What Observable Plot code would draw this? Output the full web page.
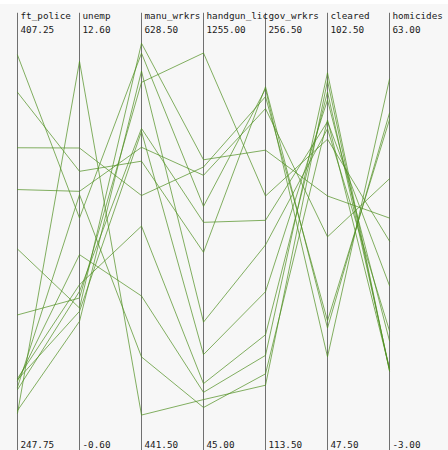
<!DOCTYPE html>
<html>
<head>
<meta charset="utf-8">
<script src="https://cdn.jsdelivr.net/npm/d3@7"></script>
<script src="https://cdn.jsdelivr.net/npm/@observablehq/plot@0.6"></script>
<style>
  html, body { margin: 0; padding: 0; background: #f7f7f7; }
  body { width: 448px; height: 450px; overflow: hidden; position: relative; }
  #topband { position: absolute; left: 0; top: 0; width: 448px; height: 4px; background: #ffffff; }
  #chart { position: absolute; left: 0; top: 0; }
</style>
</head>
<body>
<div id="topband"></div>
<div id="chart"></div>
<script>
// Variables (axes), left to right
const dims = ["ft_police", "unemp", "manu_wrkrs", "handgun_lic", "gov_wrkrs", "cleared", "homicides"];
// Axis end labels (bottom / top)
const axisLow  = [247.75, -0.60, 441.50, 45.00, 113.50, 47.50, -3.00];
const axisHigh = [407.25, 12.60, 628.50, 1255.00, 256.50, 102.50, 63.00];

// One record per year (13 years)
const years      = [1961, 1962, 1963, 1964, 1965, 1966, 1967, 1968, 1969, 1970, 1971, 1972, 1973];
const ftPolice   = [260.35, 269.80, 272.04, 272.96, 272.51, 261.34, 268.89, 295.99, 319.87, 341.43, 356.59, 376.69, 390.19];
const unemp      = [11.0, 7.0, 5.2, 4.3, 3.5, 3.2, 4.1, 3.9, 3.6, 7.1, 8.4, 7.7, 6.3];
const manuWrkrs  = [455.5, 480.2, 506.1, 535.8, 576.0, 601.7, 577.3, 596.9, 613.5, 569.3, 548.8, 563.4, 609.3];
const handgunLic = [178.15, 156.41, 198.02, 222.10, 301.92, 391.22, 665.56, 1131.21, 837.60, 794.90, 817.74, 583.17, 709.59];
const govWrkrs   = [133.9, 137.6, 143.6, 150.3, 164.3, 179.5, 187.5, 195.4, 210.3, 223.8, 227.7, 230.9, 230.2];
const cleared    = [93.4, 88.5, 94.4, 92.0, 91.0, 87.4, 88.3, 86.1, 79.0, 73.9, 63.4, 62.5, 58.9];
const homicides  = [8.60, 8.90, 8.52, 8.89, 13.07, 14.57, 21.36, 28.03, 31.49, 37.39, 46.26, 47.24, 52.33];

const columns = [ftPolice, unemp, manuWrkrs, handgunLic, govWrkrs, cleared, homicides];

// Long table of normalized values, one polyline per year
const rows = [];
years.forEach((yr, i) => {
  dims.forEach((d, j) => {
    rows.push({year: yr, dim: d, t: (columns[j][i] - axisLow[j]) / (axisHigh[j] - axisLow[j])});
  });
});

const xRange = [17, 389];
const font = "'DejaVu Sans Mono', monospace";
const fs = 9.3;

const chart = Plot.plot({
  width: 448,
  height: 450,
  margin: 0,
  style: {background: "transparent", fontFamily: font, fontSize: fs + "px", overflow: "visible"},
  x: {type: "point", domain: dims, range: xRange, padding: 0, axis: null},
  y: {domain: [0, 1], range: [447.5, 7.5], axis: null},
  marks: [
    Plot.ruleX(dims, {x: d => d, y1: -0.006, y2: 0.988, stroke: "#707070", strokeWidth: 1}),
    Plot.line(rows, {x: "dim", y: "t", z: "year", stroke: "#4f8f1f", strokeOpacity: 0.7, strokeWidth: 1, curve: "linear"}),
    Plot.text(dims, {ariaLabel: "hdr-name", x: d => d, frameAnchor: "top", dy: 11.5, dx: 3, text: d => d,
      textAnchor: "start", lineAnchor: "top", fill: "#1a1a1a", fontFamily: font, fontSize: fs}),
    Plot.text(dims, {ariaLabel: "hdr-high", x: d => d, frameAnchor: "top", dy: 25.5, dx: 3, text: (d, i) => axisHigh[i].toFixed(2),
      textAnchor: "start", lineAnchor: "top", fill: "#1a1a1a", fontFamily: font, fontSize: fs}),
    Plot.text(dims, {ariaLabel: "hdr-low", x: d => d, frameAnchor: "top", dy: 440.8, dx: 3, text: (d, i) => axisLow[i].toFixed(2),
      textAnchor: "start", lineAnchor: "top", fill: "#1a1a1a", fontFamily: font, fontSize: fs})
  ]
});

// clip each header label to its own column (labels never run over the next axis)
const ns = "http://www.w3.org/2000/svg";
const defs = document.createElementNS(ns, "defs");
chart.insertBefore(defs, chart.firstChild);
const colW = (xRange[1] - xRange[0]) / (dims.length - 1);
["hdr-name", "hdr-high", "hdr-low"].forEach(lbl => {
  const g = chart.querySelector(`g[aria-label="${lbl}"]`);
  if (!g) return;
  g.querySelectorAll("text").forEach((t, i) => {
    const id = `clip-${lbl}-${i}`;
    const cp = document.createElementNS(ns, "clipPath");
    cp.setAttribute("id", id);
    const r = document.createElementNS(ns, "rect");
    r.setAttribute("x", xRange[0] + i * colW + 1);
    r.setAttribute("y", 0);
    r.setAttribute("width", colW - 1.5);
    r.setAttribute("height", 450);
    cp.appendChild(r);
    defs.appendChild(cp);
    t.setAttribute("clip-path", `url(#${id})`);
  });
});

document.getElementById("chart").appendChild(chart);
</script>
</body>
</html>
